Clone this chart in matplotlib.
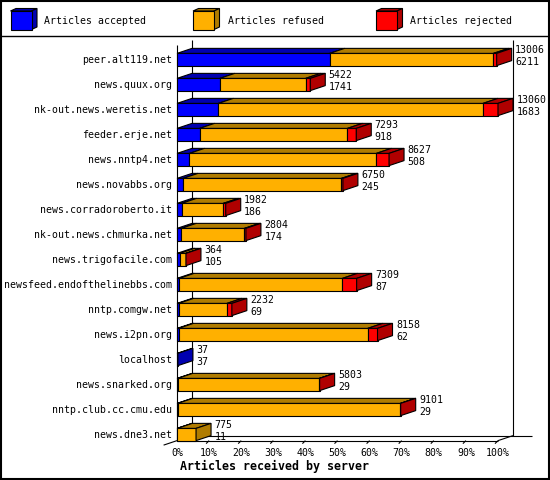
import matplotlib
matplotlib.use("Agg")
import matplotlib.pyplot as plt
from matplotlib.patches import Polygon, Rectangle

# ---------------- data ----------------
servers = ["peer.alt119.net", "news.quux.org", "nk-out.news.weretis.net", "feeder.erje.net",
           "news.nntp4.net", "news.novabbs.org", "news.corradoroberto.it", "nk-out.news.chmurka.net",
           "news.trigofacile.com", "newsfeed.endofthelinebbs.com", "nntp.comgw.net", "news.i2pn.org",
           "localhost", "news.snarked.org", "nntp.club.cc.cmu.edu", "news.dne3.net"]
total = [13006, 5422, 13060, 7293, 8627, 6750, 1982, 2804, 364, 7309, 2232, 8158, 37, 5803, 9101, 775]
accepted = [6211, 1741, 1683, 918, 508, 245, 186, 174, 105, 87, 69, 62, 37, 29, 29, 11]
rejected = [130, 190, 610, 360, 515, 60, 100, 60, 5, 580, 200, 400, 0, 10, 10, 0]
refused = [t - a - r for t, a, r in zip(total, accepted, rejected)]
series_names = ["Articles accepted", "Articles refused", "Articles rejected"]
tick_values = [0, 10, 20, 30, 40, 50, 60, 70, 80, 90, 100]
tick_labels = ["0%", "10%", "20%", "30%", "40%", "50%", "60%", "70%", "80%", "90%", "100%"]
x_title = "Articles received by server"

# ---------------- style ----------------
front_cols = ["#0000ff", "#ffb000", "#ff0000"]
dark_cols = ["#0000b0", "#b07c00", "#b00000"]
FONT = "DejaVu Sans Mono"
FS = 7.1
LW = 0.8

W, H = 550, 480
fig = plt.figure(figsize=(W / 100, H / 100), dpi=100)
fig.patch.set_facecolor("white")

# main data axes (percent of the largest total on x, server rows on y)
X0PX, PXU = 177.0, 3.21        # pixel of 0 %, pixels per percent
Y0PX, ROWPX = 59.5, 25.0       # pixel of first row centre, row pitch
ax = fig.add_axes([0, 0, 1, 1])
ax.set_xlim(-X0PX / PXU, (W - X0PX) / PXU)
ax.set_ylim((H - Y0PX) / ROWPX, -Y0PX / ROWPX)
ax.axis("off")

dx = 15.0 / PXU     # depth offset in data units
dy = 5.0 / ROWPX
h = 0.245
n = len(servers)
yb = (n - 1) + h    # front floor line
scale = 100.0 / max(total)

kline = dict(color="black", lw=LW, solid_capstyle="butt", zorder=1)
# back plane
ax.plot([dx, dx], [-0.78, yb - dy], **kline)
ax.plot([100 + dx, 100 + dx], [-0.78, yb - dy], **kline)
ax.plot([dx, 110.6], [yb - dy, yb - dy], **kline)
# front axis
ax.plot([0, 0], [-0.58, yb], **kline)
ax.plot([0, 100], [yb, yb], **kline)
ax.plot([100, 100 + dx], [yb, yb - dy], **kline)
ax.plot([0, -13.4 / PXU], [yb, yb + 4.5 / ROWPX], **kline)
for tv, tl in zip(tick_values, tick_labels):
    if tv > 0:
        ax.plot([tv, tv - 3.0 / PXU], [yb, yb + 3.0 / ROWPX], **kline)
    ax.text(tv, (456 - Y0PX) / ROWPX, tl, ha="center", va="baseline",
            family=FONT, fontsize=FS, zorder=5)
ax.text(3.0 / PXU, (470 - Y0PX) / ROWPX, x_title, ha="left", va="baseline",
        family=FONT, fontsize=8.4, fontweight="bold", zorder=5)

# bars
for i in range(n):
    segs = [accepted[i], refused[i], rejected[i]]
    nz = [k for k, v in enumerate(segs) if v > 0]
    last = nz[-1]
    left = 0.0
    for k, v in enumerate(segs):
        if v <= 0:
            continue
        right = left + v * scale
        ax.add_patch(Rectangle((left, i - h), right - left, 2 * h, facecolor=front_cols[k],
                               edgecolor="black", lw=LW, zorder=3))
        ax.add_patch(Polygon([(left, i - h), (right, i - h), (right + dx, i - h - dy),
                              (left + dx, i - h - dy)], closed=True, facecolor=dark_cols[k],
                             edgecolor="black", lw=LW, zorder=3))
        if k == last:
            ax.add_patch(Polygon([(right, i - h), (right + dx, i - h - dy),
                                  (right + dx, i + h - dy), (right, i + h)], closed=True,
                                 facecolor=dark_cols[k], edgecolor="black", lw=LW, zorder=3))
        left = right
    xend = total[i] * scale + dx + 3.5 / PXU
    ax.text(xend, i - 6.2 / ROWPX, str(total[i]), ha="left", va="baseline",
            family=FONT, fontsize=FS, zorder=5)
    ax.text(xend, i + 5.5 / ROWPX, str(accepted[i]), ha="left", va="baseline",
            family=FONT, fontsize=FS, zorder=5)
    ax.text(-5.3 / PXU, i + 3.2 / ROWPX, servers[i], ha="right", va="baseline",
            family=FONT, fontsize=FS, zorder=5)

# overlay axes in pixels for legend and frame
lg = fig.add_axes([0, 0, 1, 1], facecolor="none")
lg.set_xlim(0, W)
lg.set_ylim(H, 0)
lg.axis("off")
lg.plot([0, W], [35.5, 35.5], color="black", lw=1.0)
lg.add_patch(Rectangle((0.5, 0.5), W - 1.5, H - 1.5, fill=False, edgecolor="black", lw=1.5))
cube_x = [10.5, 193.0, 376.0]
text_x = [44.5, 228.0, 410.0]
for k in range(3):
    cx = cube_x[k]
    fw, ft, fb, cdx, cdy = 21, 11, 29.5, 5.5, 2.5
    lg.add_patch(Polygon([(cx, ft), (cx + fw, ft), (cx + fw + cdx, ft - cdy), (cx + cdx, ft - cdy)],
                         closed=True, facecolor=dark_cols[k], edgecolor="black", lw=LW))
    lg.add_patch(Polygon([(cx + fw, ft), (cx + fw + cdx, ft - cdy), (cx + fw + cdx, fb - cdy),
                          (cx + fw, fb)], closed=True, facecolor=dark_cols[k], edgecolor="black", lw=LW))
    lg.add_patch(Rectangle((cx, ft), fw, fb - ft, facecolor=front_cols[k], edgecolor="black", lw=LW))
    lg.text(text_x[k], 24.0, series_names[k], ha="left", va="baseline", family=FONT, fontsize=FS)

fig.savefig("out.png", dpi=100, facecolor="white")
